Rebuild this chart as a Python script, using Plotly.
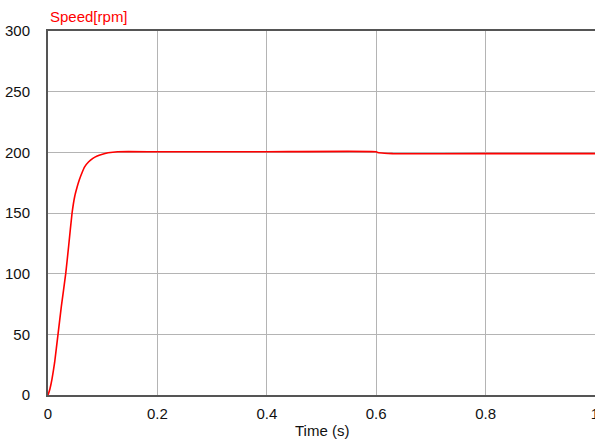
import plotly.graph_objects as go

time_s = [0.0, 0.0035, 0.0073, 0.0122, 0.0183, 0.0244, 0.0324, 0.0378, 0.044, 0.049,
          0.053, 0.057, 0.062, 0.067, 0.074, 0.082, 0.09, 0.098, 0.11, 0.127,
          0.2, 0.4, 0.6, 0.603, 0.615, 0.63, 0.8, 1.0]
speed_rpm = [0.0, 5, 13, 27, 50, 73, 100, 123, 150, 164,
             171, 177, 183, 188, 192, 195, 197, 198.3, 199.6, 200.5,
             200.5, 200.5, 200.5, 199.8, 199.2, 198.9, 198.9, 198.9]

x_ticks = [0, 0.2, 0.4, 0.6, 0.8, 1]
x_tick_labels = ["0", "0.2", "0.4", "0.6", "0.8", "1"]
y_ticks = [0, 50, 100, 150, 200, 250, 300]

font = "Liberation Sans, Arial, sans-serif"

fig = go.Figure()
fig.add_trace(go.Scatter(x=time_s, y=speed_rpm, mode="lines",
                         line=dict(color="#ff0000", width=1.6, shape="spline", smoothing=0.4),
                         showlegend=False))

fig.update_layout(
    width=595, height=441,
    margin=dict(l=48, r=0, t=31, b=46),
    paper_bgcolor="white", plot_bgcolor="white",
    font=dict(family=font, size=15, color="#111111"),
    xaxis=dict(range=[0, 1], tickvals=x_ticks, ticktext=x_tick_labels,
               showgrid=True, gridcolor="#b4b4b4", gridwidth=1,
               showline=True, linecolor="#555555", linewidth=2, mirror=True,
               ticks="", ticklabelstandoff=4, ticklabeloverflow="allow",
               zeroline=False, automargin=False),
    yaxis=dict(range=[0, 300], tickvals=y_ticks,
               showgrid=True, gridcolor="#b4b4b4", gridwidth=1,
               showline=True, linecolor="#555555", linewidth=2, mirror=True,
               ticks="", ticklabelstandoff=13, zeroline=False, automargin=False),
    annotations=[
        dict(text="Speed[rpm]", x=0, xref="paper", y=1, yref="paper",
             xanchor="left", yanchor="bottom", yshift=4, showarrow=False,
             font=dict(color="#ff0000", size=15, family=font)),
        dict(text="Time (s)", x=0.5, xref="paper", y=0, yref="paper",
             xanchor="center", yanchor="top", yshift=-25, xshift=0, showarrow=False,
             font=dict(size=15, family=font)),
    ],
)

fig.write_html("out.html", config={"displayModeBar": False},
               post_script="document.body.style.margin='0';document.body.style.overflow='hidden';")
